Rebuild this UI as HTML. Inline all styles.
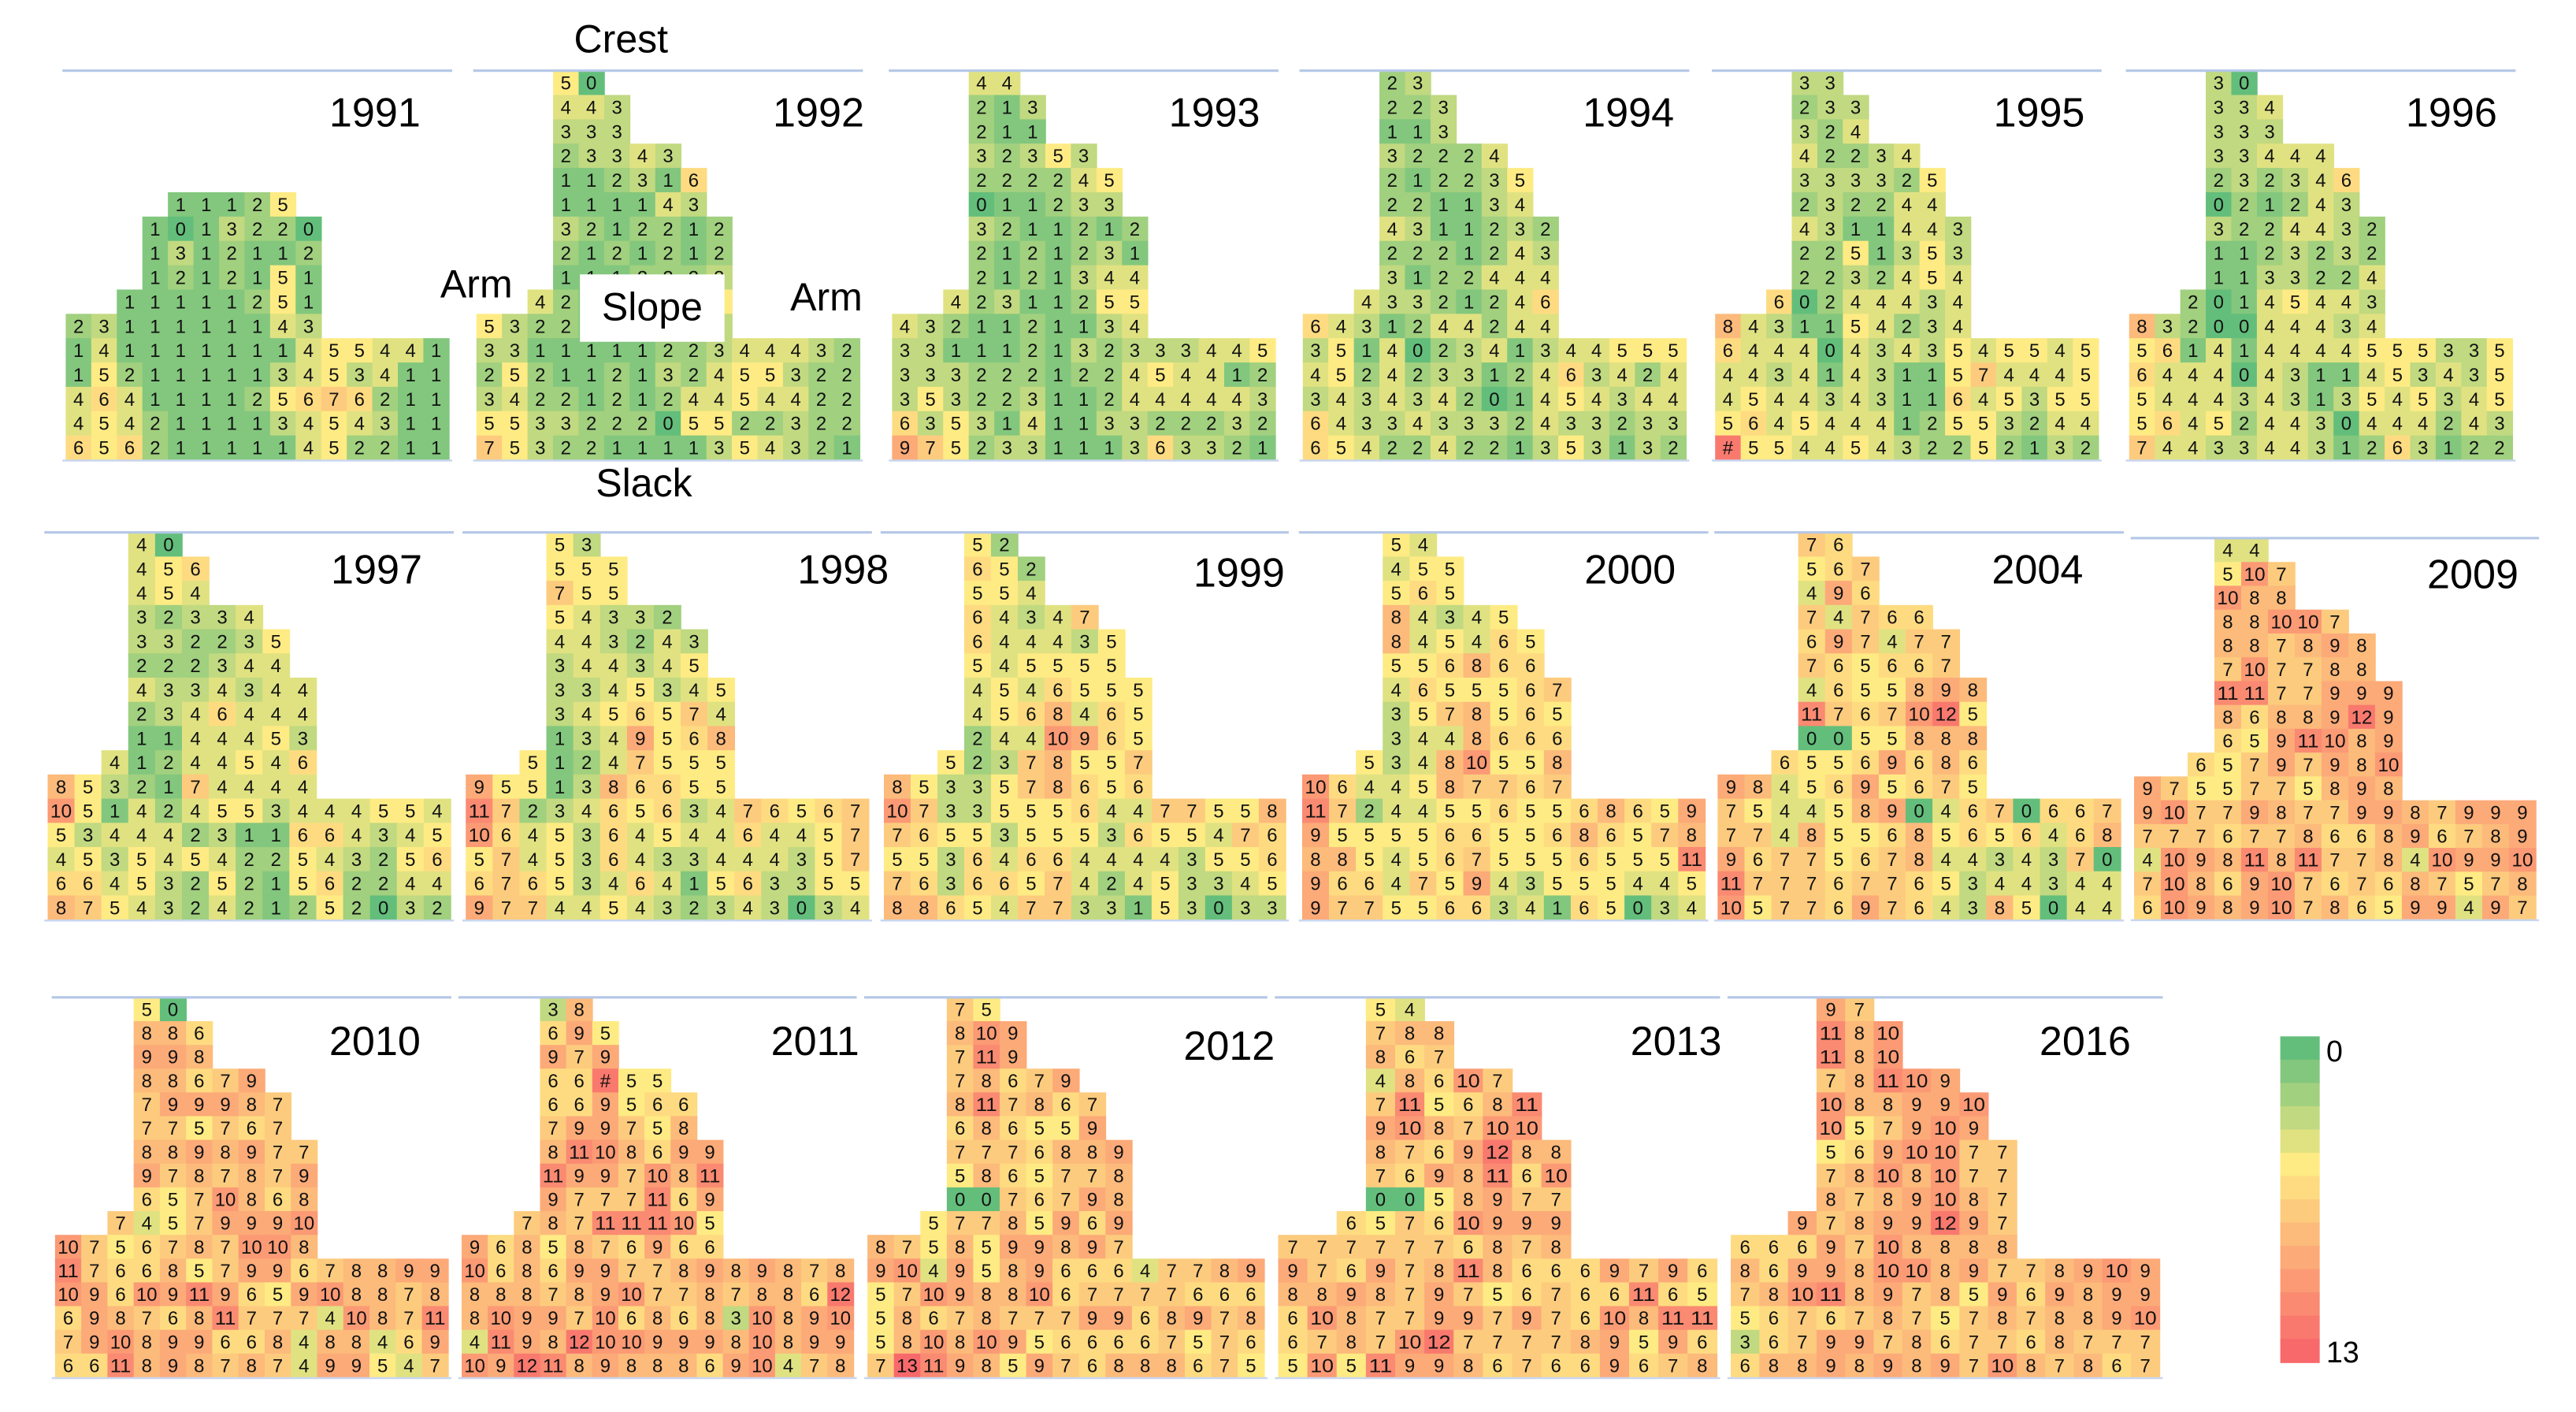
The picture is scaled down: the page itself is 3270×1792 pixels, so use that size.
<!DOCTYPE html>
<html><head><meta charset="utf-8"><title>Slope heatmaps</title>
<style>
html,body{margin:0;padding:0;background:#fff;}
svg{display:block;}
text{font-family:"Liberation Sans",sans-serif;}
</style></head>
<body>
<svg id="chart" xmlns="http://www.w3.org/2000/svg" width="3270" height="1792" viewBox="0 0 1568 859.3" preserveAspectRatio="none">
<rect x="0" y="0" width="1568" height="860" fill="#fff"/>
<g id="panels"></g>
<g>
<text x="378" y="32" font-size="24" text-anchor="middle">Crest</text>
<text x="392" y="302" font-size="24" text-anchor="middle">Slack</text>
<text x="268" y="181" font-size="24">Arm</text>
<text x="525" y="189" font-size="24" text-anchor="end">Arm</text>
<rect x="353" y="167" width="88" height="41" fill="#fff"/>
<text x="397" y="195" font-size="24" text-anchor="middle">Slope</text>
</g>
<g id="colorbar"></g>
</svg>
<script>
const years = ["1991","1992","1993","1994","1995","1996","1997","1998","1999","2000","2004","2009","2010","2011","2012","2013","2016"];
const d1991 = ["","","","","",
". . . . 1 1 1 2 5",". . . 1 0 1 3 2 2 0",". . . 1 3 1 2 1 1 2",". . . 1 2 1 2 1 5 1",". . 1 1 1 1 1 2 5 1",
"2 3 1 1 1 1 1 1 4 3","1 4 1 1 1 1 1 1 1 4 5 5 4 4 1","1 5 2 1 1 1 1 1 3 4 5 3 4 1 1","4 6 4 1 1 1 1 2 5 6 7 6 2 1 1","4 5 4 2 1 1 1 1 3 4 5 4 3 1 1","6 5 6 2 1 1 1 1 1 4 5 2 2 1 1"];
const d1992 = [". . . 5 0",". . . 4 4 3",". . . 3 3 3",". . . 2 3 3 4 3",". . . 1 1 2 3 1 6",". . . 1 1 1 1 4 3",". . . 3 2 1 2 2 1 2",". . . 2 1 2 1 2 1 2",". . . 1 1 1 2 2 2 3",". . 4 2 1 1 2 2 3 5",
"5 3 2 2 1 1 1 2 2 3","3 3 1 1 1 1 1 2 2 3 4 4 4 3 2","2 5 2 1 1 2 1 3 2 4 5 5 3 2 2","3 4 2 2 1 2 1 2 4 4 5 4 4 2 2","5 5 3 3 2 2 2 0 5 5 2 2 3 2 2","7 5 3 2 2 1 1 1 1 3 5 4 3 2 1"];
const d1993 = [". . . 4 4",". . . 2 1 3",". . . 2 1 1",". . . 3 2 3 5 3",". . . 2 2 2 2 4 5",". . . 0 1 1 2 3 3",". . . 3 2 1 1 2 1 2",". . . 2 1 2 1 2 3 1",". . . 2 1 2 1 3 4 4",". . 4 2 3 1 1 2 5 5",
"4 3 2 1 1 2 1 1 3 4","3 3 1 1 1 2 1 3 2 3 3 3 4 4 5","3 3 3 2 2 2 1 2 2 4 5 4 4 1 2","3 5 3 2 2 3 1 1 2 4 4 4 4 4 3","6 3 5 3 1 4 1 1 3 3 2 2 2 3 2","9 7 5 2 3 3 1 1 1 3 6 3 3 2 1"];
const d1994 = [". . . 2 3",". . . 2 2 3",". . . 1 1 3",". . . 3 2 2 2 4",". . . 2 1 2 2 3 5",". . . 2 2 1 1 3 4",". . . 4 3 1 1 2 3 2",". . . 2 2 2 1 2 4 3",". . . 3 1 2 2 4 4 4",". . 4 3 3 2 1 2 4 6",
"6 4 3 1 2 4 4 2 4 4","3 5 1 4 0 2 3 4 1 3 4 4 5 5 5","4 5 2 4 2 3 3 1 2 4 6 3 4 2 4","3 4 3 4 3 4 2 0 1 4 5 4 3 4 4","6 4 3 3 4 3 3 3 2 4 3 3 2 3 3","6 5 4 2 2 4 2 2 1 3 5 3 1 3 2"];
const d1995 = [". . . 3 3",". . . 2 3 3",". . . 3 2 4",". . . 4 2 2 3 4",". . . 3 3 3 3 2 5",". . . 2 3 2 2 4 4",". . . 4 3 1 1 4 4 3",". . . 2 2 5 1 3 5 3",". . . 2 2 3 2 4 5 4",". . 6 0 2 4 4 4 3 4",
"8 4 3 1 1 5 4 2 3 4","6 4 4 4 0 4 3 4 3 5 4 5 5 4 5","4 4 3 4 1 4 3 1 1 5 7 4 4 4 5","4 5 4 4 3 4 3 1 1 6 4 5 3 5 5","5 6 4 5 4 4 4 1 2 5 5 3 2 4 4","# 5 5 4 4 5 4 3 2 2 5 2 1 3 2"];
const d1996 = [". . . 3 0",". . . 3 3 4",". . . 3 3 3",". . . 3 3 4 4 4",". . . 2 3 2 3 4 6",". . . 0 2 1 2 4 3",". . . 3 2 2 4 4 3 2",". . . 1 1 2 3 2 3 2",". . . 1 1 3 3 2 2 4",". . 2 0 1 4 5 4 4 3",
"8 3 2 0 0 4 4 4 3 4","5 6 1 4 1 4 4 4 4 5 5 5 3 3 5","6 4 4 4 0 4 3 1 1 4 5 3 4 3 5","5 4 4 4 3 4 3 1 3 5 4 5 3 4 5","5 6 4 5 2 4 4 3 0 4 4 4 2 4 3","7 4 4 3 3 4 4 3 1 2 6 3 1 2 2"];
const d1997 = [". . . 4 0",". . . 4 5 6",". . . 4 5 4",". . . 3 2 3 3 4",". . . 3 3 2 2 3 5",". . . 2 2 2 3 4 4",". . . 4 3 3 4 3 4 4",". . . 2 3 4 6 4 4 4",". . . 1 1 4 4 4 5 3",". . 4 1 2 4 4 5 4 6",
"8 5 3 2 1 7 4 4 4 4","10 5 1 4 2 4 5 5 3 4 4 4 5 5 4","5 3 4 4 4 2 3 1 1 6 6 4 3 4 5","4 5 3 5 4 5 4 2 2 5 4 3 2 5 6","6 6 4 5 3 2 5 2 1 5 6 2 2 4 4","8 7 5 4 3 2 4 2 1 2 5 2 0 3 2"];
const d1998 = [". . . 5 3",". . . 5 5 5",". . . 7 5 5",". . . 5 4 3 3 2",". . . 4 4 3 2 4 3",". . . 3 4 4 3 4 5",". . . 3 3 4 5 3 4 5",". . . 3 4 5 6 5 7 4",". . . 1 3 4 9 5 6 8",". . 5 1 2 4 7 5 5 5",
"9 5 5 1 3 8 6 6 5 5","11 7 2 3 4 6 5 6 3 4 7 6 5 6 7","10 6 4 5 3 6 4 5 4 4 6 4 4 5 7","5 7 4 5 3 6 4 3 3 4 4 4 3 5 7","6 7 6 5 3 4 6 4 1 5 6 3 3 5 5","9 7 7 4 4 5 4 3 2 3 4 3 0 3 4"];
const d1999 = [". . . 5 2",". . . 6 5 2",". . . 5 5 4",". . . 6 4 3 4 7",". . . 6 4 4 4 3 5",". . . 5 4 5 5 5 5",". . . 4 5 4 6 5 5 5",". . . 4 5 6 8 4 6 5",". . . 2 4 4 10 9 6 5",". . 5 2 3 7 8 5 5 7",
"8 5 3 3 5 7 8 6 5 6","10 7 3 3 5 5 5 6 4 4 7 7 5 5 8","7 6 5 5 3 5 5 5 3 6 5 5 4 7 6","5 5 3 6 4 6 6 4 4 4 4 3 5 5 6","7 6 3 6 6 5 7 4 2 4 5 3 3 4 5","8 8 6 5 4 7 7 3 3 1 5 3 0 3 3"];
const d2000 = [". . . 5 4",". . . 4 5 5",". . . 5 6 5",". . . 8 4 3 4 5",". . . 8 4 5 4 6 5",". . . 5 5 6 8 6 6",". . . 4 6 5 5 5 6 7",". . . 3 5 7 8 5 6 5",". . . 3 4 4 8 6 6 6",". . 5 3 4 8 10 5 5 8",
"10 6 4 4 5 8 7 7 6 7","11 7 2 4 4 5 5 6 5 5 6 8 6 5 9","9 5 5 5 5 6 6 5 5 6 8 6 5 7 8","8 8 5 4 5 6 7 5 5 5 6 5 5 5 11","9 6 6 4 7 5 9 4 3 5 5 5 4 4 5","9 7 7 5 5 6 6 3 4 1 6 5 0 3 4"];
const d2004 = [". . . 7 6",". . . 5 6 7",". . . 4 9 6",". . . 7 4 7 6 6",". . . 6 9 7 4 7 7",". . . 7 6 5 6 6 7",". . . 4 6 5 5 8 9 8",". . . 11 7 6 7 10 12 5",". . . 0 0 5 5 8 8 8",". . 6 5 5 6 9 6 8 6",
"9 8 4 5 6 9 5 6 7 5","7 5 4 4 5 8 9 0 4 6 7 0 6 6 7","7 7 4 8 5 5 6 8 5 6 5 6 4 6 8","9 6 7 7 5 6 7 8 4 4 3 4 3 7 0","11 7 7 7 6 7 7 6 5 3 4 4 3 4 4","10 5 7 7 6 9 7 6 4 3 8 5 0 4 4"];
const d2009 = [". . . 4 4",". . . 5 10 7",". . . 10 8 8",". . . 8 8 10 10 7",". . . 8 8 7 8 9 8",". . . 7 10 7 7 8 8",". . . 11 11 7 7 9 9 9",". . . 8 6 8 8 9 12 9",". . . 6 5 9 11 10 8 9",". . 6 5 7 9 7 9 8 10",
"9 7 5 5 7 7 5 8 9 8","9 10 7 7 9 8 7 7 9 9 8 7 9 9 9","7 7 7 6 7 7 8 6 6 8 9 6 7 8 9","4 10 9 8 11 8 11 7 7 8 4 10 9 9 10","7 10 8 6 9 10 7 6 7 6 8 7 5 7 8","6 10 9 8 9 10 7 8 6 5 9 9 4 9 7"];
const d2010 = [". . . 5 0",". . . 8 8 6",". . . 9 9 8",". . . 8 8 6 7 9",". . . 7 9 9 9 8 7",". . . 7 7 5 7 6 7",". . . 8 8 9 8 9 7 7",". . . 9 7 8 7 8 7 9",". . . 6 5 7 10 8 6 8",". . 7 4 5 7 9 9 9 10",
"10 7 5 6 7 8 7 10 10 8","11 7 6 6 8 5 7 9 9 6 7 8 8 9 9","10 9 6 10 9 11 9 6 5 9 10 8 8 7 8","6 9 8 7 6 8 11 7 7 7 4 10 8 7 11","7 9 10 8 9 9 6 6 8 4 8 8 4 6 9","6 6 11 8 9 8 7 8 7 4 9 9 5 4 7"];
const d2011 = [". . . 3 8",". . . 6 9 5",". . . 9 7 9",". . . 6 6 # 5 5",". . . 6 6 9 5 6 6",". . . 7 9 9 7 5 8",". . . 8 11 10 8 6 9 9",". . . 11 9 9 7 10 8 11",". . . 9 7 7 7 11 6 9",". . 7 8 7 11 11 11 10 5",
"9 6 8 5 8 7 6 9 6 6","10 6 8 6 9 9 7 7 8 9 8 9 8 7 8","8 8 8 7 8 9 10 7 7 8 7 8 8 6 12","8 10 9 9 7 10 6 8 6 8 3 10 8 9 10","4 11 9 8 12 10 10 9 9 9 8 10 8 9 9","10 9 12 11 8 9 8 8 8 6 9 10 4 7 8"];
const d2012 = [". . . 7 5",". . . 8 10 9",". . . 7 11 9",". . . 7 8 6 7 9",". . . 8 11 7 8 6 7",". . . 6 8 6 5 5 9",". . . 7 7 7 6 8 8 9",". . . 5 8 6 5 7 7 8",". . . 0 0 7 6 7 9 8",". . 5 7 7 8 5 9 6 9",
"8 7 5 8 5 9 9 8 9 7","9 10 4 9 5 8 9 6 6 6 4 7 7 8 9","5 7 10 9 8 8 10 6 7 7 7 7 6 6 6","5 8 6 7 8 7 7 7 9 9 6 8 9 7 8","5 8 10 8 10 9 5 6 6 6 6 7 5 7 6","7 13 11 9 8 5 9 7 6 8 8 8 6 7 5"];
const d2013 = [". . . 5 4",". . . 7 8 8",". . . 8 6 7",". . . 4 8 6 10 7",". . . 7 11 5 6 8 11",". . . 9 10 8 7 10 10",". . . 8 7 6 9 12 8 8",". . . 7 6 9 8 11 6 10",". . . 0 0 5 8 9 7 7",". . 6 5 7 6 10 9 9 9",
"7 7 7 7 7 7 6 8 7 8","9 7 6 9 7 8 11 8 6 6 6 9 7 9 6","8 8 9 8 7 9 7 5 6 7 6 6 11 6 5","6 10 8 7 7 9 9 7 9 7 6 10 8 11 11","6 7 8 7 10 12 7 7 7 7 8 9 5 9 6","5 10 5 11 9 9 8 6 7 6 6 9 6 7 8"];
const d2016 = [". . . 9 7",". . . 11 8 10",". . . 11 8 10",". . . 7 8 11 10 9",". . . 10 8 8 9 9 10",". . . 10 5 7 9 10 9",". . . 5 6 9 10 10 7 7",". . . 7 8 10 8 10 7 7",". . . 8 7 8 9 10 8 7",". . 9 7 8 9 9 12 9 7",
"6 6 6 9 7 10 8 8 8 8","8 6 9 9 8 10 10 8 9 7 7 8 9 10 9","7 8 10 11 8 9 7 8 5 9 6 9 8 9 9","5 6 7 6 7 8 7 5 7 8 7 8 8 9 10","3 6 7 9 9 7 8 6 7 7 6 8 7 7 7","6 8 8 9 8 9 8 9 7 10 8 7 8 6 7"];
const panelData = [d1991,d1992,d1993,d1994,d1995,d1996,d1997,d1998,d1999,d2000,d2004,d2009,d2010,d2011,d2012,d2013,d2016];
const colorbarTicks = ["0","13"];
const scaleMin = 0, scaleMid = 5, scaleMax = 13;

const layout = [
 [40,43,15.55,14.8,256,77],[290,43,15.55,14.8,526,77],[543,43,15.55,14.8,767,77],[793,43,15.55,14.8,1019,77],[1044,43,15.55,14.8,1269,77],[1296,43,15.55,14.8,1520,77],
 [29,324,16.35,14.73,257,355],[283.5,324,16.35,14.73,541,355],[538,324,16.3,14.73,782,357],[792.6,324,16.35,14.73,1020,355],[1045.5,324,16.35,14.73,1268,355],[1299,327.5,16.3,14.5,1533,358],
 [33.5,607,15.95,14.45,256,642],[281,607,15.9,14.45,523,642],[528,607,16.1,14.45,776,645],[778,607,17.8,14.45,1048,642],[1053.5,607,17.4,14.45,1297,642]
];
const NS="http://www.w3.org/2000/svg";
function mix(a,b,t){return "rgb("+a.map((v,i)=>Math.round(v+(b[i]-v)*t)).join(",")+")";}
function colorFor(v){
 const g=[99,190,123], y=[255,235,132], r=[248,105,107];
 if(v<=scaleMid) return mix(g,y,Math.max(0,(v-scaleMin)/(scaleMid-scaleMin)));
 return mix(y,r,Math.min(1,(v-scaleMid)/(scaleMax-scaleMid)));
}
function el(tag,attrs,parent){const e=document.createElementNS(NS,tag);for(const k in attrs)e.setAttribute(k,attrs[k]);parent.appendChild(e);return e;}
const root=document.getElementById("panels");
panelData.forEach((rows,p)=>{
 const [gx,gy,cw,ch,lx,ly]=layout[p];
 const g=el("g",{},root);
 
 
 rows.forEach((row,ri)=>{
  if(!row) return;
  row.split(" ").forEach((tok,ci)=>{
   if(tok===".") return;
   const v = tok==="#" ? 12 : parseInt(tok,10);
   const x=gx+ci*cw, y=gy+ri*ch;
   const r=el("rect",{x:x,y:y,width:cw+0.4,height:ch+0.4,fill:colorFor(v)},g);
   
   
   const two=tok.length>1;
   const attrs={x:x+cw/2,y:y+ch/2+4.1,"font-size":11.5,"text-anchor":"middle",fill:"#111"};
   if(two){attrs.textLength=cw*0.8;attrs.lengthAdjust="spacingAndGlyphs";attrs.x=x+cw*0.1;attrs["text-anchor"]="start";}
   const t=el("text",attrs,g);
   
   
   t.textContent=tok;
  });
 });
 const w=15*cw;
 const top=el("line",{x1:gx-2,y1:gy,x2:gx+w+2,y2:gy,stroke:"#b4c7e7","stroke-width":1.5},g);
 
 
 const bot=el("line",{x1:gx-2,y1:gy+16*ch+0.5,x2:gx+w+2,y2:gy+16*ch+0.5,stroke:"#c9d6ee","stroke-width":1.2},g);
 
 
 const yl=el("text",{x:lx,y:ly,"font-size":25,"text-anchor":"end",fill:"#000"},g);
 
 
 yl.textContent=years[p];
});
const cb=document.getElementById("colorbar");
const cbTop=630.7, cbBot=829, cbX=1388, cbW=24, bands=14;
for(let i=0;i<bands;i++){
 const v=scaleMin+(scaleMax-scaleMin)*i/(bands-1);
 const h=(cbBot-cbTop)/bands;
 const r=el("rect",{x:cbX,y:cbTop+i*h,width:cbW,height:h+0.5,fill:colorFor(v)},cb);
 
 
}
colorbarTicks.forEach((lab,i)=>{
 const t=el("text",{x:1416,y:i===0?646:829,"font-size":18,fill:"#000"},cb);
 
 
 t.textContent=lab;
});
</script>
</body></html>
